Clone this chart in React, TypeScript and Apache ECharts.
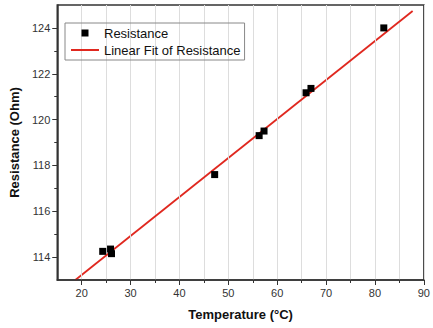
import React, { useEffect, useRef } from "react";
import * as echarts from "echarts";

const temperature = [24.3, 25.9, 26.1, 47.2, 56.3, 57.3, 65.9, 66.9, 81.8];
const resistance = [114.25, 114.35, 114.15, 117.6, 119.3, 119.5, 121.17, 121.36, 124.0];
const fitTemperature = [18.7, 87.7];
const fitResistance = [113.0, 124.74];
const xMajorTicks = [20, 30, 40, 50, 60, 70, 80, 90];
const xMinorTicks = [25, 35, 45, 55, 65, 75, 85];
const yMajorTicks = [114, 116, 118, 120, 122, 124];
const yMinorTicks = [115, 117, 119, 121, 123];

const FONT = "'Liberation Sans', Arial, sans-serif";

export default function App() {
  const ref = useRef<HTMLDivElement>(null);
  useEffect(() => {
    if (!ref.current) return;
    const chart = echarts.init(ref.current, undefined, { renderer: "svg" });
    const axisLine = { show: true, lineStyle: { color: "#333", width: 1.5 } };
    const gridLine = { show: true, lineStyle: { color: "#ddd", width: 1 } };
    chart.setOption({
      animation: false,
      textStyle: { fontFamily: FONT },
      grid: {
        left: 55,
        right: 5,
        top: 5,
        bottom: 48,
        show: true,
        borderColor: "#333",
        borderWidth: 1.5,
        backgroundColor: "transparent",
      },
      legend: {
        left: 65,
        top: 23,
        orient: "vertical",
        itemWidth: 28,
        itemHeight: 7,
        itemGap: 3,
        padding: [3, 4, 3, 6],
        borderColor: "#888",
        borderWidth: 1,
        symbolKeepAspect: true,
        textStyle: { fontSize: 13, color: "#111", fontFamily: FONT, lineHeight: 14 },
        data: [
          { name: "Resistance", icon: "path://M0,0H7V7H0Z", itemStyle: { color: "#000", opacity: 1 } },
          { name: "Linear Fit of Resistance", icon: "path://M0,0H28V2H0Z", itemStyle: { color: "#e0281f" } },
        ],
      },
      xAxis: [
        {
          type: "value",
          min: 15,
          max: 90,
          interval: 5,
          position: "bottom",
          name: "Temperature (°C)",
          nameLocation: "middle",
          nameGap: 28,
          nameTextStyle: { fontSize: 13, fontWeight: "bold", color: "#111", fontFamily: FONT },
          axisLine,
          axisTick: { show: true, customValues: xMajorTicks, length: 5, lineStyle: { color: "#333" } },
          axisLabel: { customValues: xMajorTicks, fontSize: 11, color: "#333", margin: 7, fontFamily: FONT },
          splitLine: gridLine,
          z: 3,
        },
        {
          type: "value",
          min: 15,
          max: 90,
          interval: 5,
          position: "bottom",
          axisLine: { show: false },
          axisTick: { show: true, customValues: xMinorTicks, length: 3, lineStyle: { color: "#333" } },
          axisLabel: { show: false },
          splitLine: gridLine,
        },
      ],
      yAxis: [
        {
          type: "value",
          min: 113,
          max: 125,
          interval: 1,
          position: "left",
          name: "Resistance (Ohm)",
          nameLocation: "middle",
          nameGap: 34,
          nameTextStyle: { fontSize: 13, fontWeight: "bold", color: "#111", fontFamily: FONT },
          axisLine,
          axisTick: { show: true, customValues: yMajorTicks, length: 5, lineStyle: { color: "#333" } },
          axisLabel: { customValues: yMajorTicks, fontSize: 11, color: "#333", margin: 7, fontFamily: FONT },
          splitLine: { show: false },
        },
        {
          type: "value",
          min: 113,
          max: 125,
          interval: 1,
          position: "left",
          axisLine: { show: false },
          axisTick: { show: true, customValues: yMinorTicks, length: 3, lineStyle: { color: "#333" } },
          axisLabel: { show: false },
          splitLine: { show: false },
        },
      ],
      series: [
        {
          name: "Linear Fit of Resistance",
          type: "line",
          xAxisIndex: 0,
          yAxisIndex: 0,
          symbol: "none",
          lineStyle: { color: "#e0281f", width: 1.8 },
          itemStyle: { color: "#e0281f" },
          data: fitTemperature.map((t, i) => [t, fitResistance[i]]),
          z: 2,
        },
        {
          name: "Resistance",
          type: "scatter",
          xAxisIndex: 0,
          yAxisIndex: 0,
          symbol: "rect",
          symbolSize: 7,
          itemStyle: { color: "#000", opacity: 1 },
          data: temperature.map((t, i) => [t, resistance[i]]),
          z: 3,
        },
      ],
    });
    return () => chart.dispose();
  }, []);
  return (
    <div
      ref={ref}
      style={{ position: "fixed", left: 0, top: 0, width: 433, height: 328, background: "#fff" }}
    />
  );
}
